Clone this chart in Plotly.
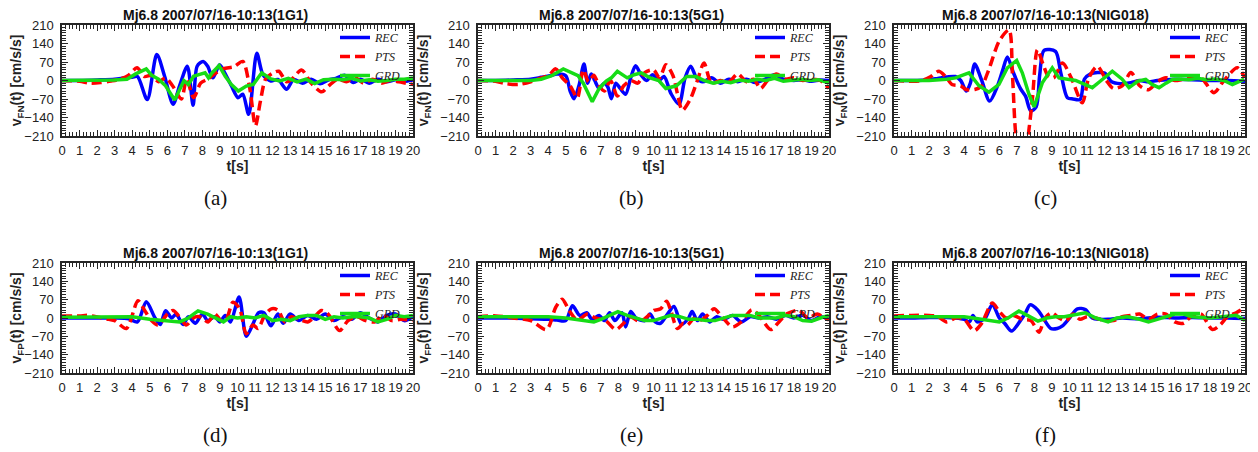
import plotly.graph_objects as go

# ---------------- data ----------------
TITLES = ["Mj6.8 2007/07/16-10:13(1G1)", "Mj6.8 2007/07/16-10:13(5G1)", "Mj6.8 2007/07/16-10:13(NIG018)",
          "Mj6.8 2007/07/16-10:13(1G1)", "Mj6.8 2007/07/16-10:13(5G1)", "Mj6.8 2007/07/16-10:13(NIG018)"]
PANEL_LABELS = ["(a)", "(b)", "(c)", "(d)", "(e)", "(f)"]
COMPONENTS = ["FN", "FN", "FN", "FP", "FP", "FP"]
SERIES_NAMES = ["REC", "PTS", "GRD"]
X_RANGE = [0, 20]
X_TICK_STEP = 1
X_MINOR_STEP = 0.2
Y_RANGE = [-210, 210]
Y_TICK_STEP = 70
Y_MINOR_STEP = 10

# (a) FN 1G1
t_a_rec = [0, 1, 2, 3, 3.6, 4.0, 4.3, 4.86, 5.4, 5.85, 6.33, 6.7, 7.14, 7.47, 7.7, 8.04, 8.3, 8.6, 8.98, 9.27, 9.65, 10.03, 10.3, 10.64, 11.1, 11.45, 11.9, 12.3, 12.8, 13.2, 13.7, 14.2, 14.7, 15.2, 15.6, 16.1, 16.6, 17.0, 17.5, 18.0, 18.5, 19.0, 19.5, 20]
v_a_rec = [0, 0, 2, 5, 10, 12, 15, -72, 98, 15, -90, -20, 54, -94, 54, 72, 54, 10, 60, 29, -20, -65, -52, -128, 103, 22, -2, 4, -33, 4, -10, 5, -12, 3, 8, 20, -8, 5, -10, 5, -5, 3, -3, 2]
t_a_pts = [0, 1.0, 1.6, 2.2, 2.8, 3.3, 3.8, 4.27, 4.7, 5.1, 5.5, 5.9, 6.3, 6.8, 7.1, 7.5, 7.9, 8.3, 8.7, 9.2, 9.8, 10.3, 10.7, 11.02, 11.3, 11.6, 12.0, 12.35, 12.8, 13.1, 13.65, 14.2, 14.8, 15.2, 15.7, 16.2, 16.7, 17.2, 17.7, 18.2, 18.7, 19.2, 19.7, 20]
v_a_pts = [0, -3, -10, -8, -2, 5, 20, 48, 15, 20, -5, 10, -20, -70, 5, -65, -10, 5, 25, 45, 52, 72, -30, -172, -80, 5, 28, 35, -5, 5, 40, -10, -43, -20, 5, -5, 10, -10, 5, -10, 0, -5, -12, -15]
t_a_grd = [0, 1, 2, 3, 3.7, 4.2, 4.8, 5.1, 5.5, 5.9, 6.42, 6.8, 6.95, 7.2, 7.5, 7.8, 8.15, 8.35, 8.55, 8.95, 9.3, 9.65, 10.05, 10.5, 10.9, 11.38, 11.9, 12.4, 12.9, 13.4, 13.9, 14.4, 14.9, 15.5, 16.0, 16.5, 17.0, 17.5, 18.0, 18.5, 19.0, 19.5, 20]
v_a_grd = [0, 0, 0, 2, 5, 25, 44, 20, 5, -20, -74, -20, 0, -15, 16, 22, 29, 10, 29, 56, 16, -15, -40, -21, -15, 29, 6, -2, 8, -5, 5, -12, 3, 5, 3, 8, -2, 3, -3, 0, 5, 5, 10]

# (b) FN 5G1
t_b_rec = [0, 1, 2, 3, 3.6, 4.1, 4.5, 5.0, 5.25, 5.47, 5.75, 6.04, 6.25, 6.45, 6.65, 6.9, 7.2, 7.4, 7.6, 7.85, 8.1, 8.41, 8.7, 8.98, 9.3, 9.6, 9.95, 10.3, 10.6, 11.0, 11.45, 11.8, 12.12, 12.45, 12.8, 13.3, 13.8, 14.3, 14.8, 15.3, 15.8, 16.3, 16.9, 17.4, 18.0, 18.5, 19.0, 19.5, 20]
v_b_rec = [0, 0, 2, 5, 12, 18, 25, 18, -40, -69, -20, 62, -10, 25, 0, -30, -10, -25, -69, -10, -30, -52, 10, 56, 20, 0, 22, 0, 15, -50, -90, 10, 54, 10, -5, 10, -10, 5, -5, 5, -8, 3, 22, 5, 0, 3, -3, 2, 0]
t_b_pts = [0, 1, 1.6, 2.3, 3.0, 3.6, 4.0, 4.43, 4.8, 5.25, 5.66, 6.0, 6.3, 6.6, 6.9, 7.2, 7.55, 7.94, 8.3, 8.7, 9.1, 9.5, 10.0, 10.35, 10.7, 11.1, 11.4, 11.64, 12.1, 12.5, 12.88, 13.3, 13.8, 14.3, 14.8, 15.3, 15.7, 16.1, 16.5, 17.0, 17.5, 18.0, 18.5, 19.0, 19.5, 20]
v_b_pts = [0, -3, -12, -15, -5, 10, 18, 44, 10, -20, -65, 40, -5, 20, -20, -40, 0, -59, -20, 0, -10, 30, 40, 10, 60, 20, -60, -113, -70, 0, 66, -10, 0, -5, 25, -5, 5, -30, 0, 25, 5, 10, 0, 5, 0, -30]
t_b_grd = [0, 1, 2, 3, 3.6, 4.2, 4.86, 5.35, 5.7, 6.0, 6.51, 6.9, 7.3, 7.6, 7.94, 8.5, 8.9, 9.3, 9.8, 10.3, 10.7, 11.3, 11.9, 12.4, 12.9, 13.4, 13.9, 14.4, 14.9, 15.4, 15.9, 16.4, 16.9, 17.4, 17.9, 18.4, 18.9, 19.4, 20]
v_b_grd = [0, 0, -2, 0, 5, 18, 44, 29, 18, -10, -80, -30, -2, 10, 35, 10, 22, 29, 10, 0, -30, -20, 15, 15, 0, -10, -3, -8, 2, -3, 5, 0, 8, -3, 0, 5, 0, 3, -10]

# (c) FN NIG018
t_c_rec = [0, 1, 2, 2.5, 3.0, 3.5, 3.8, 4.12, 4.35, 4.6, 5.0, 5.45, 5.9, 6.2, 6.46, 6.8, 7.2, 7.5, 7.79, 8.1, 8.3, 8.55, 9.2, 9.5, 9.88, 10.2, 10.6, 10.85, 11.2, 11.6, 12.0, 12.4, 12.9, 13.5, 14.0, 14.5, 15.0, 16.0, 17.0, 18.0, 19.0, 20]
v_c_rec = [0, 0, 3, 8, 13, 15, 0, -40, -10, 62, 0, -78, -20, 40, 89, 30, -30, -60, -115, -100, 20, 114, 110, 30, -65, -70, -72, 5, 25, 30, 28, -5, -12, -8, 0, -5, 0, 5, 3, 0, 0, -3]
t_c_pts = [0, 1.0, 1.6, 2.1, 2.56, 3.0, 3.3, 3.8, 4.1, 4.6, 5.0, 5.4, 6.0, 6.55, 6.75, 6.95, 7.2, 7.5, 7.7, 7.9, 8.17, 8.5, 8.8, 9.1, 9.6, 10.1, 10.73, 11.1, 11.59, 12.1, 12.5, 13.0, 13.5, 14.0, 14.5, 15.0, 15.5, 16.0, 16.5, 17.0, 17.5, 18.23, 18.8, 19.56, 20]
v_c_pts = [0, -3, 0, 15, 35, 10, -15, -20, -34, -34, -20, 41, 150, 191, 20, -210, -290, -270, -180, -60, 116, 60, 15, 10, 66, 10, -84, 10, 54, 0, -30, -20, 30, -20, -35, -5, 10, 0, 5, 10, 10, -46, 0, 48, 10]
t_c_grd = [0, 1, 2, 3, 3.5, 4.27, 4.84, 5.41, 5.98, 6.46, 6.99, 7.31, 7.69, 7.98, 8.45, 9.02, 9.4, 10.35, 11.3, 11.8, 12.44, 13.0, 13.39, 13.9, 14.34, 14.7, 15.1, 15.5, 15.86, 16.24, 16.8, 17.3, 17.8, 18.3, 18.8, 19.28, 19.94]
v_c_grd = [0, 0, 0, 5, 10, 29, -20, -44, -15, 48, 76, 29, -52, -100, -9, 48, 10, 0, -27, 0, 35, 5, -27, -2, 4, -15, -27, -10, 4, 6, 3, 8, 3, 6, 0, -15, 4]

# (d) FP 1G1
t_d_rec = [0, 1, 2, 3, 3.8, 4.3, 4.8, 5.3, 5.6, 5.9, 6.25, 6.5, 6.9, 7.2, 7.6, 8.0, 8.3, 8.7, 9.0, 9.3, 9.6, 10.09, 10.5, 10.9, 11.2, 11.5, 11.9, 12.3, 12.6, 13.0, 13.5, 14.0, 14.5, 15.0, 15.5, 16.0, 16.5, 17.0, 17.5, 18.0, 18.5, 19.0, 19.5, 20]
v_d_rec = [0, 0, 0, 0, -3, -15, 62, 0, -25, 28, 0, 15, -25, 5, -20, 15, -10, 5, -15, 10, -15, 80, -70, -20, 20, 20, -30, 15, -20, 15, -10, 10, -5, 15, -10, 5, -5, 20, 0, -15, 10, 15, -10, 5]
t_d_pts = [0, 1.0, 1.5, 2.5, 3.0, 3.67, 4.33, 4.7, 5.1, 5.47, 6.0, 6.33, 6.8, 7.08, 7.56, 7.94, 8.32, 8.7, 9.08, 9.36, 9.74, 10.12, 10.5, 10.88, 11.17, 11.55, 11.93, 12.3, 12.7, 13.07, 13.5, 14.0, 14.4, 14.78, 15.16, 15.82, 16.3, 16.8, 17.3, 17.8, 18.3, 18.8, 19.3, 20]
v_d_pts = [8, 8, 10, -3, -10, -40, 66, 30, -10, -27, 15, 29, -5, -27, 3, 3, -15, 16, -10, -5, 60, 35, -60, -27, -40, 10, 35, 30, -15, 5, -5, -15, 5, 29, 15, -48, -10, 5, -10, -15, 10, -10, -5, -10]
t_d_grd = [0, 2, 4, 5, 6, 6.7, 7.2, 7.75, 8.3, 8.8, 9.2, 9.6, 10.0, 10.5, 11.0, 11.5, 12.0, 12.5, 13.0, 13.5, 14.0, 14.5, 15.0, 15.5, 16.0, 16.5, 17.0, 17.5, 18.0, 18.5, 19.0, 19.5, 20]
v_d_grd = [3, 3, 5, -5, -10, -15, 0, 27, 15, 0, -15, 5, 0, 5, 0, 10, -10, -5, -10, 5, 10, 10, -5, 5, 0, 5, 5, 0, -15, -5, 10, 5, 10]

# (e) FP 5G1
t_e_rec = [0, 1, 2, 3, 4, 4.5, 5.0, 5.38, 5.8, 6.2, 6.5, 6.9, 7.2, 7.5, 7.8, 8.2, 8.41, 8.7, 9.0, 9.5, 9.8, 10.1, 10.4, 10.8, 11.17, 11.6, 12.0, 12.2, 12.5, 12.8, 13.2, 13.6, 14.0, 14.5, 15.0, 15.5, 16.0, 16.5, 17.0, 17.5, 18.0, 18.5, 19.0, 19.5, 20]
v_e_rec = [0, 0, 0, -3, -5, -8, -10, 47, 10, 20, -5, 10, -10, 20, -10, 20, -34, 25, 0, -10, 15, -15, -20, 15, 44, -25, 0, 25, -10, 15, -15, 5, -5, 10, -15, 5, 0, 5, -5, 10, 0, 10, -10, 5, -5]
t_e_pts = [0, 1, 2, 3, 3.9, 4.43, 4.8, 5.19, 5.66, 6.23, 6.7, 7.27, 7.85, 8.3, 8.7, 9.08, 9.46, 10.03, 10.41, 10.75, 10.98, 11.36, 11.7, 11.93, 12.3, 12.69, 13.07, 13.45, 13.92, 14.5, 15.0, 15.6, 16.01, 16.68, 17.15, 17.6, 18.29, 18.8, 19.33, 19.9, 20]
v_e_pts = [5, 8, 0, -10, -44, 41, 72, 29, -8, 15, 0, -10, -44, -20, 5, -10, -5, 29, 35, 64, 29, -40, -20, -27, -2, -8, 10, 35, 3, -34, -15, 31, 10, -44, -15, 16, 29, 0, 15, -5, -5]
t_e_grd = [0, 2, 4, 5, 6, 6.6, 7.0, 7.5, 7.97, 8.5, 9.0, 9.5, 10.0, 10.5, 11.0, 11.5, 12.0, 12.5, 13.0, 13.5, 14.0, 14.5, 15.0, 15.5, 16.0, 16.5, 17.0, 17.5, 18.0, 18.5, 19.0, 19.5, 20]
v_e_grd = [5, 5, 5, 0, -10, -15, -5, 10, 24, 10, 0, -10, -10, 0, 10, 5, -5, -5, -10, -10, 0, 10, 10, 10, 0, 0, 0, 10, 5, -10, -12, 0, 10]

# (f) FP NIG018
t_f_rec = [0, 1, 2, 3, 3.5, 4.0, 4.3, 4.5, 4.75, 5.2, 5.6, 6.0, 6.3, 6.7, 7.2, 7.5, 7.75, 8.2, 8.5, 8.93, 9.3, 9.6, 10.0, 10.45, 10.9, 11.3, 11.7, 12.2, 13, 14, 15, 16, 17, 18, 19, 20]
v_f_rec = [0, 0, 2, 2, 0, -5, -15, 10, -15, 0, 52, 0, -20, -50, -10, 20, 50, 30, 0, -40, -40, -30, 0, 35, 32, 0, -5, -5, 0, -3, 3, 0, 2, 0, 0, -2]
t_f_pts = [0, 1, 2, 2.5, 3.0, 3.5, 4.0, 4.56, 5.0, 5.6, 6.0, 6.4, 6.8, 7.3, 7.8, 8.26, 8.6, 9.0, 9.4, 9.8, 10.2, 10.6, 11.0, 11.5, 12.0, 12.5, 13.0, 13.5, 14.0, 14.5, 15.0, 15.5, 16.0, 16.5, 17.0, 17.5, 18.14, 18.6, 19.0, 19.5, 20]
v_f_pts = [8, 10, 10, 5, -15, 0, -5, -49, -20, 57, 25, 0, 10, -5, -10, -54, 0, 20, 0, -10, 15, -5, 5, 0, -10, -10, 5, 10, 15, -5, 15, 15, -15, -20, 10, 15, -44, -25, 5, 20, 40]
t_f_grd = [0, 2, 3.5, 4.0, 4.5, 5.0, 6.0, 6.5, 7.12, 7.6, 8.2, 8.7, 9.2, 9.7, 10.2, 10.9, 11.5, 12.2, 12.7, 13.3, 14.0, 14.5, 15.0, 15.5, 16.0, 16.5, 17.0, 18.0, 19.0, 19.5, 20]
v_f_grd = [5, 5, 5, 5, 0, -5, -15, 0, 27, 10, -12, 0, 5, 5, 10, 20, 0, -15, 0, 5, -5, -15, -5, 5, 15, 15, 5, 0, 5, 10, -10]

PANEL_DATA = [
    [(t_a_rec, v_a_rec), (t_a_pts, v_a_pts), (t_a_grd, v_a_grd)],
    [(t_b_rec, v_b_rec), (t_b_pts, v_b_pts), (t_b_grd, v_b_grd)],
    [(t_c_rec, v_c_rec), (t_c_pts, v_c_pts), (t_c_grd, v_c_grd)],
    [(t_d_rec, v_d_rec), (t_d_pts, v_d_pts), (t_d_grd, v_d_grd)],
    [(t_e_rec, v_e_rec), (t_e_pts, v_e_pts), (t_e_grd, v_e_grd)],
    [(t_f_rec, v_f_rec), (t_f_pts, v_f_pts), (t_f_grd, v_f_grd)],
]

# ---------------- styling / layout ----------------
# the page body has an 8px default margin, so the figure is drawn 8px smaller
PAGE = 8
W, H = 1258 - PAGE, 452 - PAGE
COL_PX = [(62, 413), (478, 829), (894, 1245)]   # window pixels
ROW_PX = [(25, 136), (263, 373)]
TITLE_CX = [215, 631, 1045]
LEGEND_X = [335, 750, 1165]


def px_x(v):
    return (v - PAGE) / W


def px_y(v):
    return 1 - (v - PAGE) / H


STYLES = [
    dict(color="#0000FF", width=3.5, dash="solid", shape="spline"),
    dict(color="#FF0000", width=3.5, dash="10px,5px", shape="spline"),
    dict(color="#16DC16", width=3.5, dash="solid", shape="linear"),
]

SANS = "Liberation Sans, Arial, sans-serif"
SERIF = "Liberation Serif, Times New Roman, serif"
AXC = "#262626"

fig = go.Figure()
annotations = []
layout = dict(
    width=W, height=H, margin=dict(l=0, r=0, t=0, b=0, autoexpand=False),
    paper_bgcolor="white", plot_bgcolor="white",
    font=dict(family=SANS, size=12, color="#222222"),
)


def axis_common(step, minor_step):
    return dict(
        tickmode="linear", tick0=0, dtick=step,
        ticks="inside", ticklen=6, tickwidth=1.3, tickcolor=AXC,
        minor=dict(tickmode="linear", tick0=0, dtick=minor_step, ticks="inside",
                   ticklen=4, tickwidth=1.2, tickcolor=AXC, showgrid=False),
        showline=True, linecolor=AXC, linewidth=1.5, mirror="allticks",
        showgrid=False, zeroline=False, tickfont=dict(size=13, family=SANS, color="#222"),
        automargin=False,
    )


for i in range(6):
    r, c = divmod(i, 3)
    n = "" if i == 0 else str(i + 1)
    xa, ya = "x" + n, "y" + n
    leg = "legend" + n
    x0, x1 = COL_PX[c]
    y0, y1 = ROW_PX[r]
    for s, (ts, vs) in enumerate(PANEL_DATA[i]):
        st = STYLES[s]
        line = dict(color=st["color"], width=st["width"], dash=st["dash"], shape=st["shape"])
        if st["shape"] == "spline":
            line["smoothing"] = 0.8
        fig.add_trace(go.Scatter(
            x=ts, y=vs, mode="lines", name=SERIES_NAMES[s], line=line,
            xaxis=xa, yaxis=ya, legend=leg, showlegend=True,
        ))
    xd = axis_common(X_TICK_STEP, X_MINOR_STEP)
    xd.update(domain=[px_x(x0), px_x(x1)], anchor=ya, range=X_RANGE, ticklabelstandoff=2,
              title=dict(text="<b>t[s]</b>", font=dict(size=14, family=SANS), standoff=4))
    yd = axis_common(Y_TICK_STEP, Y_MINOR_STEP)
    yd.update(domain=[px_y(y1), px_y(y0)], anchor=xa, range=Y_RANGE, ticklabelstandoff=4,
              title=dict(text="<b>v<sub>%s</sub>(t) [cm/s/s]</b>" % COMPONENTS[i],
                         font=dict(size=14, family=SANS), standoff=8))
    layout["xaxis" + n] = xd
    layout["yaxis" + n] = yd
    layout[leg] = dict(
        x=px_x(LEGEND_X[c]), xanchor="left", xref="paper",
        y=px_y(y0 - 2), yanchor="top", yref="paper",
        bgcolor="rgba(255,255,255,0)", borderwidth=0,
        font=dict(family=SERIF, size=12, style="italic", color="#222"),
        itemwidth=30, tracegroupgap=0,
    )
    annotations.append(dict(
        text="<b>%s</b>" % TITLES[i], x=px_x(TITLE_CX[c]), y=px_y(y0 - 10),
        xref="paper", yref="paper", xanchor="center", yanchor="middle",
        showarrow=False, font=dict(size=14, family=SANS, color="#111"),
    ))
    annotations.append(dict(
        text=PANEL_LABELS[i], x=px_x(TITLE_CX[c]), y=px_y(y1 + 62),
        xref="paper", yref="paper", xanchor="center", yanchor="middle",
        showarrow=False, font=dict(size=21, family=SERIF, color="#111"),
    ))

layout["annotations"] = annotations
fig.update_layout(**layout)
fig.write_html("out.html")
